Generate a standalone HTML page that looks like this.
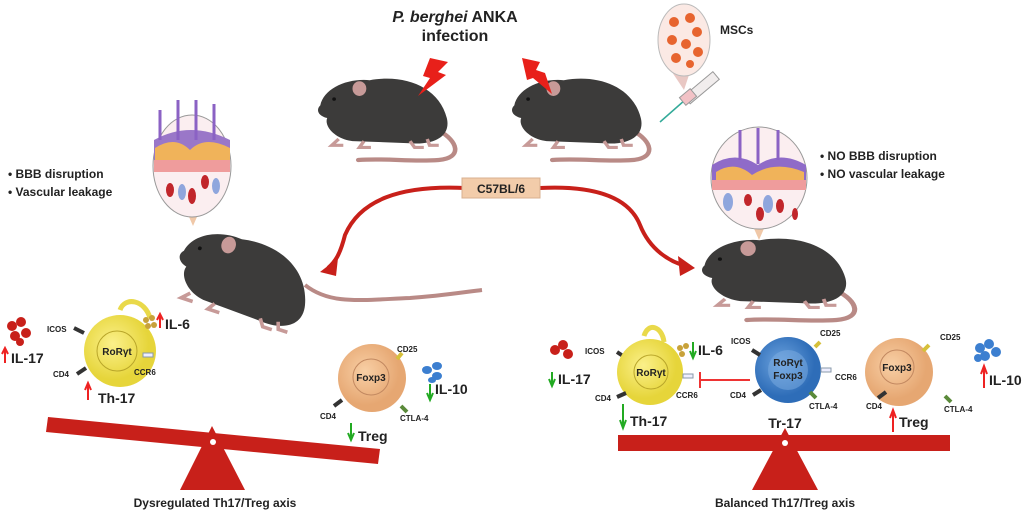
<!DOCTYPE html>
<html><head><meta charset="utf-8"><style>
body{margin:0;background:#fff}
svg{display:block}
text{font-family:"Liberation Sans",Arial,sans-serif;font-weight:bold;fill:#222}
</style></head><body>
<svg width="1023" height="518" viewBox="0 0 1023 518" xmlns="http://www.w3.org/2000/svg">
<defs>
<g id="mouse">
  <path d="M105,52 C122,62 126,78 105,80 C80,82 60,78 35,80" fill="none" stroke="#b98a86" stroke-width="4" stroke-linecap="round"/>
  <path d="M2,28 C5,12 25,2 45,4 C75,-2 105,10 112,40 C116,58 100,66 80,64 L30,62 C15,60 5,48 8,40 C0,38 -2,32 2,28 Z" fill="#3c3b3a"/>
  <ellipse cx="36" cy="12" rx="6" ry="7" fill="#c79a98"/>
  <circle cx="14" cy="22" r="1.6" fill="#111"/>
  <path d="M18,60 l-6,6 h10 M40,62 l-4,6 h10 M80,62 l4,6 h8 M95,60 l2,6 h8" stroke="#c79a98" stroke-width="3" fill="none"/>
</g>
<g id="mouseNT">
  <path d="M2,28 C5,12 25,2 45,4 C75,-2 105,10 112,40 C116,58 100,66 80,64 L30,62 C15,60 5,48 8,40 C0,38 -2,32 2,28 Z" fill="#3c3b3a"/>
  <ellipse cx="36" cy="12" rx="6" ry="7" fill="#c79a98"/>
  <circle cx="14" cy="22" r="1.6" fill="#111"/>
  <path d="M18,60 l-6,6 h10 M40,62 l-4,6 h10 M80,62 l4,6 h8 M95,60 l2,6 h8" stroke="#c79a98" stroke-width="3" fill="none"/>
</g>
<radialGradient id="gy" cx="40%" cy="40%"><stop offset="0" stop-color="#fbf08a"/><stop offset="1" stop-color="#e6d53a"/></radialGradient>
<radialGradient id="go" cx="40%" cy="40%"><stop offset="0" stop-color="#f8cfa5"/><stop offset="1" stop-color="#e6a772"/></radialGradient>
<radialGradient id="gb" cx="40%" cy="40%"><stop offset="0" stop-color="#6da3de"/><stop offset="1" stop-color="#2e6db8"/></radialGradient>
</defs>

<text x="455" y="22" font-size="16" text-anchor="middle"><tspan font-style="italic">P. berghei</tspan> ANKA</text>
<text x="455" y="41" font-size="16" text-anchor="middle">infection</text>

<g transform="translate(318,76) scale(1.15,1.05)"><use href="#mouse"/></g>
<g transform="translate(512,76) scale(1.15,1.05)"><use href="#mouse"/></g>
<path d="M430,58 L448,62 L438,72 L446,75 L418,96 L430,78 L423,76 Z" fill="#e8201a"/>
<path d="M522,58 L540,62 L536,70 L545,73 L552,94 L533,78 L527,80 Z" fill="#e8201a"/>

<path d="M672,72 L684,90 L690,72 Z" fill="#e9c8c4"/>
<ellipse cx="684" cy="40" rx="26" ry="36" fill="#fbe9e4" stroke="#bbb"/>
<g fill="#e7642f"><circle cx="674" cy="22" r="5"/><circle cx="690" cy="18" r="5"/><circle cx="697" cy="32" r="5"/><circle cx="672" cy="40" r="5"/><circle cx="686" cy="44" r="5"/><circle cx="698" cy="52" r="5"/><circle cx="676" cy="58" r="5"/><circle cx="690" cy="64" r="4"/></g>
<text x="720" y="34" font-size="12">MSCs</text>
<line x1="660" y1="122" x2="685" y2="100" stroke="#3a9" stroke-width="1.5"/>
<rect x="683" y="84" width="38" height="10" fill="#f1eded" stroke="#999" transform="rotate(-40 700 89)"/>
<rect x="681" y="92" width="14" height="10" fill="#f2c2c6" stroke="#999" transform="rotate(-40 688 97)"/>

<path d="M186,210 L193,226 L200,210 Z" fill="#f0c8a8"/>
<ellipse cx="192" cy="166" rx="39" ry="51" fill="#fbeef0" stroke="#999"/>
<path d="M154,140 Q190,120 230,140 L230,160 L154,160 Z" fill="#9a77c8"/>
<path d="M160,110 v30 M178,100 v40 M196,100 v40 M214,104 v36" stroke="#8b62c4" stroke-width="3"/>
<path d="M155,148 Q175,135 190,150 Q205,135 230,148 L230,165 L155,165 Z" fill="#f0b35a"/>
<rect x="154" y="160" width="76" height="12" fill="#ef9c9c"/>
<g fill="#c1262b"><ellipse cx="170" cy="190" rx="4" ry="7"/><ellipse cx="192" cy="196" rx="4" ry="8"/><ellipse cx="205" cy="182" rx="4" ry="7"/></g>
<g fill="#8fa6dd"><ellipse cx="182" cy="192" rx="4" ry="8"/><ellipse cx="216" cy="186" rx="4" ry="8"/></g>

<path d="M752,224 L759,240 L766,224 Z" fill="#f0c8a8"/>
<ellipse cx="759" cy="178" rx="48" ry="51" fill="#fbeef0" stroke="#999"/>
<path d="M712,165 Q735,150 758,165 Q780,150 806,165 L806,180 L712,180 Z" fill="#8f6bc8"/>
<path d="M740,130 v30 M758,128 v36 M778,130 v30" stroke="#8b62c4" stroke-width="3"/>
<path d="M716,172 Q735,160 752,175 Q775,160 804,172 L804,180 L716,180 Z" fill="#f0b35a"/>
<rect x="712" y="180" width="94" height="10" fill="#ef9c9c"/>
<g fill="#c1262b"><ellipse cx="748" cy="200" rx="4" ry="6"/><ellipse cx="760" cy="214" rx="4" ry="7"/><ellipse cx="780" cy="206" rx="4" ry="7"/><ellipse cx="795" cy="214" rx="3" ry="6"/></g>
<g fill="#8fa6dd"><ellipse cx="728" cy="202" rx="5" ry="9"/><ellipse cx="768" cy="204" rx="5" ry="9"/></g>

<text x="8" y="178" font-size="12">•  BBB disruption</text>
<text x="8" y="196" font-size="12">•  Vascular leakage</text>
<text x="820" y="160" font-size="12">•  NO BBB disruption</text>
<text x="820" y="178" font-size="12">•  NO vascular leakage</text>

<!-- lower mice -->
<path d="M305,285 C330,305 360,300 410,298 C440,296 465,292 482,290" fill="none" stroke="#b98a86" stroke-width="4"/>
<g transform="translate(192,218) rotate(18) scale(1.2)"><use href="#mouseNT"/></g>
<g transform="translate(702,236) scale(1.28,1.05)"><use href="#mouse"/></g>

<path d="M465,188 C400,185 360,200 345,235 C340,255 335,262 328,268" fill="none" stroke="#c8201a" stroke-width="4"/>
<path d="M320,272 L338,258 L336,276 Z" fill="#c8201a"/>
<path d="M540,188 C600,185 630,200 640,225 C650,250 670,262 686,266" fill="none" stroke="#c8201a" stroke-width="4"/>
<path d="M695,268 L678,256 L680,276 Z" fill="#c8201a"/>
<rect x="462" y="178" width="78" height="20" fill="#f2ccaa" stroke="#d8b090"/>
<text x="501" y="193" font-size="12" text-anchor="middle">C57BL/6</text>

<polygon points="48,417 380,449 378,464 46,432" fill="#c8201a"/>
<polygon points="212,426 180,490 245,490" fill="#c8201a"/>
<circle cx="213" cy="442" r="3" fill="#fff"/>
<text x="215" y="507" font-size="12" text-anchor="middle">Dysregulated Th17/Treg axis</text>

<g fill="#c8201a"><circle cx="12" cy="326" r="5"/><circle cx="21" cy="322" r="5"/><circle cx="15" cy="336" r="5"/><circle cx="26" cy="333" r="5"/><circle cx="20" cy="342" r="4"/></g>
<path d="M5,363 V350 M2,354 L5,348 L8,354" stroke="#e22" stroke-width="2" fill="none"/>
<text x="11" y="363" font-size="14">IL-17</text>
<text x="47" y="332" font-size="8">ICOS</text>
<line x1="74" y1="328" x2="84" y2="333" stroke="#333" stroke-width="4"/>
<circle cx="120" cy="351" r="36" fill="url(#gy)"/>
<circle cx="117" cy="351" r="20" fill="none" stroke="#b9a62a"/>
<text x="117" y="355" font-size="10" text-anchor="middle">RoRγt</text>
<rect x="143" y="353" width="10" height="4" fill="#eef" stroke="#89a"/>
<text x="134" y="375" font-size="8">CCR6</text>
<text x="53" y="377" font-size="8">CD4</text>
<line x1="77" y1="374" x2="86" y2="368" stroke="#333" stroke-width="4"/>
<path d="M88,400 V385 M85,390 L88,383 L91,390" stroke="#e22" stroke-width="2" fill="none"/>
<text x="98" y="403" font-size="14">Th-17</text>
<path d="M150,318 C145,300 125,296 120,310" fill="none" stroke="#e9d94a" stroke-width="5"/>
<g fill="#c8a23a"><circle cx="146" cy="320" r="3"/><circle cx="152" cy="318" r="3"/><circle cx="148" cy="326" r="3"/><circle cx="154" cy="325" r="3"/></g>
<path d="M160,328 V316 M157,320 L160,314 L163,320" stroke="#e22" stroke-width="2" fill="none"/>
<text x="165" y="329" font-size="14">IL-6</text>

<circle cx="372" cy="378" r="34" fill="url(#go)"/>
<circle cx="371" cy="377" r="18" fill="none" stroke="#c28860"/>
<text x="371" y="381" font-size="10" text-anchor="middle">Foxp3</text>
<text x="397" y="352" font-size="8">CD25</text>
<line x1="397" y1="359" x2="402" y2="353" stroke="#d6c03a" stroke-width="4"/>
<text x="320" y="419" font-size="8">CD4</text>
<line x1="334" y1="406" x2="342" y2="400" stroke="#333" stroke-width="4"/>
<text x="400" y="421" font-size="8">CTLA-4</text>
<line x1="401" y1="406" x2="407" y2="412" stroke="#5a8a3a" stroke-width="4"/>
<path d="M351,423 V438 M348,433 L351,440 L354,433" stroke="#2a2" stroke-width="2" fill="none"/>
<text x="358" y="441" font-size="14">Treg</text>
<g fill="#3c7fd0"><ellipse cx="427" cy="370" rx="5" ry="4"/><ellipse cx="437" cy="366" rx="5" ry="4"/><ellipse cx="437" cy="376" rx="5" ry="4"/><ellipse cx="432" cy="380" rx="4" ry="3"/></g>
<path d="M430,384 V398 M427,393 L430,400 L433,393" stroke="#2a2" stroke-width="2" fill="none"/>
<text x="435" y="394" font-size="14">IL-10</text>

<rect x="618" y="435" width="332" height="16" fill="#c8201a"/>
<polygon points="785,428 752,490 818,490" fill="#c8201a"/>
<circle cx="785" cy="443" r="3" fill="#fff"/>
<text x="785" y="507" font-size="12" text-anchor="middle">Balanced Th17/Treg axis</text>

<g fill="#c8201a"><circle cx="555" cy="350" r="5"/><circle cx="563" cy="345" r="5"/><circle cx="568" cy="354" r="5"/></g>
<path d="M552,372 V384 M549,379 L552,386 L555,379" stroke="#2a2" stroke-width="2" fill="none"/>
<text x="558" y="384" font-size="14">IL-17</text>
<text x="585" y="354" font-size="8">ICOS</text>
<line x1="617" y1="352" x2="626" y2="358" stroke="#333" stroke-width="4"/>
<circle cx="650" cy="372" r="33" fill="url(#gy)"/>
<circle cx="651" cy="372" r="17" fill="none" stroke="#b9a62a"/>
<text x="651" y="376" font-size="10" text-anchor="middle">RoRγt</text>
<rect x="683" y="374" width="10" height="4" fill="#eef" stroke="#89a"/>
<text x="676" y="398" font-size="8">CCR6</text>
<text x="595" y="401" font-size="8">CD4</text>
<line x1="617" y1="397" x2="626" y2="393" stroke="#333" stroke-width="4"/>
<path d="M623,404 V426 M620,420 L623,428 L626,420" stroke="#2a2" stroke-width="2" fill="none"/>
<text x="630" y="426" font-size="14">Th-17</text>
<path d="M664,342 C662,326 648,322 644,336" fill="none" stroke="#e9d94a" stroke-width="5"/>
<g fill="#c8a23a"><circle cx="680" cy="348" r="3"/><circle cx="686" cy="346" r="3"/><circle cx="682" cy="354" r="3"/></g>
<path d="M693,342 V356 M690,351 L693,358 L696,351" stroke="#2a2" stroke-width="2" fill="none"/>
<text x="698" y="355" font-size="14">IL-6</text>
<path d="M750,380 H700 M700,372 V388" stroke="#e33" stroke-width="2" fill="none"/>

<circle cx="788" cy="370" r="33" fill="url(#gb)"/>
<circle cx="788" cy="370" r="20" fill="#7eaee2" opacity="0.5"/>
<text x="788" y="366" font-size="10" text-anchor="middle">RoRγt</text>
<text x="788" y="379" font-size="10" text-anchor="middle">Foxp3</text>
<text x="731" y="344" font-size="8">ICOS</text>
<line x1="752" y1="350" x2="760" y2="355" stroke="#333" stroke-width="4"/>
<text x="820" y="336" font-size="8">CD25</text>
<line x1="815" y1="347" x2="820" y2="342" stroke="#d6c03a" stroke-width="4"/>
<rect x="821" y="368" width="10" height="4" fill="#eef" stroke="#89a"/>
<text x="835" y="380" font-size="8">CCR6</text>
<text x="730" y="398" font-size="8">CD4</text>
<line x1="753" y1="395" x2="761" y2="390" stroke="#333" stroke-width="4"/>
<text x="809" y="409" font-size="8">CTLA-4</text>
<line x1="810" y1="392" x2="816" y2="398" stroke="#5a8a3a" stroke-width="4"/>
<text x="785" y="428" font-size="14" text-anchor="middle">Tr-17</text>

<circle cx="899" cy="372" r="34" fill="url(#go)"/>
<circle cx="897" cy="367" r="17" fill="none" stroke="#c28860"/>
<text x="897" y="371" font-size="10" text-anchor="middle">Foxp3</text>
<text x="940" y="340" font-size="8">CD25</text>
<line x1="923" y1="351" x2="929" y2="345" stroke="#d6c03a" stroke-width="4"/>
<text x="866" y="409" font-size="8">CD4</text>
<line x1="878" y1="398" x2="886" y2="392" stroke="#333" stroke-width="4"/>
<text x="944" y="412" font-size="8">CTLA-4</text>
<line x1="945" y1="396" x2="951" y2="402" stroke="#5a8a3a" stroke-width="4"/>
<path d="M893,432 V412 M890,418 L893,410 L896,418" stroke="#e22" stroke-width="2" fill="none"/>
<text x="899" y="427" font-size="14">Treg</text>
<g fill="#3c7fd0"><circle cx="980" cy="348" r="5"/><circle cx="989" cy="344" r="5"/><circle cx="996" cy="352" r="5"/><circle cx="985" cy="356" r="5"/><circle cx="978" cy="358" r="4"/></g>
<path d="M984,388 V368 M981,374 L984,366 L987,374" stroke="#e22" stroke-width="2" fill="none"/>
<text x="989" y="385" font-size="14">IL-10</text>
</svg>
</body></html>
